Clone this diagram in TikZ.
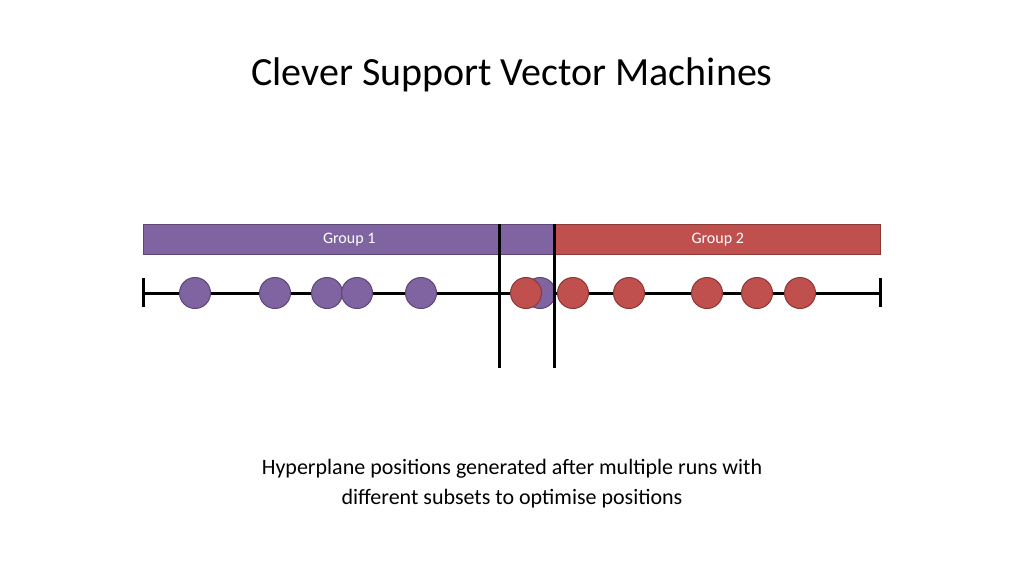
\documentclass[tikz,border=0pt]{standalone}
\usepackage{fontspec}
\setmainfont{Carlito}
\definecolor{pu}{HTML}{8064A2}\definecolor{pub}{HTML}{5C4776}
\definecolor{rd}{HTML}{C0504D}\definecolor{rdb}{HTML}{8C3836}
\begin{document}
\begin{tikzpicture}[x=1pt,y=-1pt,
 pdot/.style={circle,draw=pub,fill=pu,line width=1pt,minimum size=31pt,inner sep=0pt},
 rdot/.style={circle,draw=rdb,fill=rd,line width=1pt,minimum size=31pt,inner sep=0pt},
 blk/.style={line width=3pt,black}]
\useasboundingbox (0,0) rectangle (1024,575);
\node (title) at (512,75) {\fontsize{40}{48}\selectfont Clever Support Vector Machines};
\node[draw=pub,fill=pu,minimum width=412pt,minimum height=30pt,anchor=north west,inner sep=0pt,text=white] (g1) at (143,224) {\fontsize{16}{19}\selectfont Group 1};
\node[draw=rdb,fill=rd,minimum width=325pt,minimum height=30pt,anchor=north west,inner sep=0pt,text=white] (g2) at (555,224) {\fontsize{16}{19}\selectfont Group 2};
\coordinate (L) at (143,293); \coordinate (R) at (880,293);
\draw[blk] (L) -- (R);
\draw[blk] (143,278) -- (143,307);
\draw[blk] (880,278) -- (880,307);
\foreach \x/\n in {195/p1,275/p2,327/p3,357/p4,421/p5,540/p6} \node[pdot] (\n) at (\x,293) {};
\foreach \x/\n in {526/r1,573/r2,629/r3,707/r4,757/r5,800/r6} \node[rdot] (\n) at (\x,293) {};
\draw[blk] (499,224) -- (499,368);
\draw[blk] (554,224) -- (554,368);
\node[align=center,font=\fontsize{22}{30}\selectfont] (cap) at (512,484) {Hyperplane positions generated after multiple runs with\\ different subsets to optimise positions};
\end{tikzpicture}
\end{document}
